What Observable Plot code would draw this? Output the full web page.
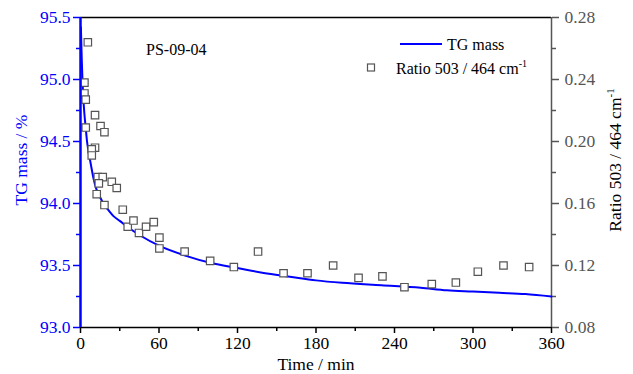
<!DOCTYPE html>
<html><head><meta charset="utf-8">
<script src="https://cdn.jsdelivr.net/npm/d3@7"></script>
<script src="https://cdn.jsdelivr.net/npm/@observablehq/plot@0.6"></script>
<style>
body{margin:0;background:#fff}
#chart svg{display:block}
#chart svg, #chart svg text{font-family:'Liberation Serif', 'DejaVu Serif', serif !important}
</style>
</head><body><div id="chart"></div>
<script>
// TG mass curve (time in min, mass in %)
const tgTime = [0.3, 1, 2, 3, 4, 5, 6, 8, 10, 12, 15, 18, 21, 25, 30, 36, 46, 60, 80, 100, 120, 140, 160, 180, 200, 230, 260, 280, 300, 320, 340, 360];
const tgMass = [95.42, 95.15, 94.88, 94.72, 94.61, 94.50, 94.43, 94.31, 94.20, 94.12, 94.05, 93.99, 93.95, 93.90, 93.86, 93.81, 93.74, 93.66, 93.58, 93.52, 93.48, 93.44, 93.41, 93.38, 93.36, 93.34, 93.32, 93.30, 93.29, 93.28, 93.27, 93.25];

// Ratio 503 / 464 cm-1 (time in min, ratio)
const ratioTime = [5.6, 3.0, 3.0, 4.0, 11.1, 15.3, 18.3, 4.0, 11.1, 8.6, 8.6, 13.2, 17.0, 14.0, 23.9, 27.7, 12.4, 18.3, 32.3, 36.1, 40.5, 44.7, 50.1, 56.0, 60.3, 60.3, 79.6, 99.1, 117.2, 135.7, 155.2, 173.5, 193.1, 212.5, 230.8, 247.6, 268.5, 286.9, 303.7, 323.3, 342.9];
const ratioValue = [0.264, 0.238, 0.231, 0.227, 0.217, 0.210, 0.206, 0.209, 0.196, 0.195, 0.191, 0.177, 0.177, 0.173, 0.174, 0.170, 0.166, 0.159, 0.156, 0.145, 0.149, 0.141, 0.145, 0.148, 0.138, 0.131, 0.129, 0.123, 0.119, 0.129, 0.115, 0.115, 0.120, 0.112, 0.113, 0.106, 0.108, 0.109, 0.116, 0.120, 0.119];

// Tick labels
const xTicks = [0, 60, 120, 180, 240, 300, 360];
const xMinor = [30, 90, 150, 210, 270, 330];
const tgTicks = [93.0, 93.5, 94.0, 94.5, 95.0, 95.5];
const tgMinor = [93.25, 93.75, 94.25, 94.75, 95.25];
const ratioTicks = [0.08, 0.12, 0.16, 0.20, 0.24, 0.28];
const ratioMinor = [0.10, 0.14, 0.18, 0.22, 0.26];

const tgDomain = [93.0, 95.5];
const ratioDomain = [0.08, 0.28];
const toTG = r => tgDomain[0] + (r - ratioDomain[0]) / (ratioDomain[1] - ratioDomain[0]) * (tgDomain[1] - tgDomain[0]);
const fromTG = v => ratioDomain[0] + (v - tgDomain[0]) / (tgDomain[1] - tgDomain[0]) * (ratioDomain[1] - ratioDomain[0]);

const tg = tgTime.map((t, i) => ({t, m: tgMass[i]}));
const ratio = ratioTime.map((t, i) => ({t, r: ratioValue[i]}));

const BLUE = "#0000ff";
const GRAY = "#555555";
const FS = 17.5;
const FONT = "Liberation Serif";

const plot = Plot.plot({
  width: 633,
  height: 374,
  marginLeft: 80,
  marginRight: 82,
  marginTop: 17,
  marginBottom: 47,
  style: {fontFamily: FONT, background: "#fff"},
  x: {domain: [0, 360], axis: null},
  y: {domain: tgDomain, axis: null},
  marks: [
    Plot.ruleY([tgDomain[1]], {stroke: "#000", strokeWidth: 1.5}),
    Plot.ruleY([tgDomain[0]], {stroke: "#000", strokeWidth: 1.5}),
    Plot.ruleX([360], {stroke: GRAY, strokeWidth: 1.5}),
    Plot.axisX(xTicks, {anchor: "bottom", tickSize: 6, tickPadding: 3, fontSize: FS, stroke: "#000", fill: "#000", label: null, tickFormat: d => String(d), strokeWidth: 1.5}),
    Plot.axisX(xMinor, {anchor: "bottom", tickSize: 4, tickFormat: () => "", label: null, strokeWidth: 1.5}),
    Plot.axisY(tgTicks, {anchor: "left", tickSize: 7, tickPadding: 3, fontSize: FS, color: BLUE, label: null, tickFormat: d => d.toFixed(1), strokeWidth: 1.5}),
    Plot.axisY(tgMinor, {anchor: "left", tickSize: 4, color: BLUE, label: null, tickFormat: () => "", strokeWidth: 1.5}),
    Plot.axisY(ratioTicks.map(toTG), {anchor: "right", tickSize: 7, tickPadding: 6, fontSize: FS, color: GRAY, label: null, tickFormat: d => fromTG(d).toFixed(2), strokeWidth: 1.5}),
    Plot.axisY(ratioMinor.map(toTG), {anchor: "right", tickSize: 4, color: GRAY, label: null, tickFormat: () => "", strokeWidth: 1.5}),
    Plot.line(tg, {x: "t", y: "m", stroke: BLUE, strokeWidth: 2, curve: "monotone-x"}),
    Plot.dot(ratio, {x: "t", y: d => toTG(d.r), symbol: "square", r: 4.2, stroke: GRAY, fill: "white", strokeWidth: 1.2}),
    Plot.ruleX([0], {stroke: BLUE, strokeWidth: 2.5})
  ]
});

document.getElementById("chart").appendChild(plot);

const svg = d3.select(plot);

function addText(x, y, str, opts = {}) {
  const t = svg.append("text")
    .attr("text-anchor", opts.anchor || "start")
    .attr("fill", opts.fill || "#000")
    .attr("font-size", opts.size || FS)
    .attr("font-family", FONT);
  if (opts.rotate) t.attr("transform", `translate(${x},${y}) rotate(${opts.rotate})`);
  else t.attr("x", x).attr("y", y);
  t.append("tspan").text(str);
  if (opts.sup) t.append("tspan").attr("font-size", opts.supSize || 10).attr("dy", -7).text(opts.sup);
  return t;
}

// Axis titles
addText(27, 160, "TG mass / %", {anchor: "middle", fill: BLUE, rotate: -90});
addText(621, 160, "Ratio 503 / 464 cm", {anchor: "middle", rotate: -90, sup: "-1", supSize: 11});
addText(316, 370, "Time / min", {anchor: "middle"});

// Annotation
addText(146, 55, "PS-09-04", {size: 16});

// Legend
svg.append("line").attr("x1", 400).attr("x2", 442).attr("y1", 44).attr("y2", 44)
  .attr("stroke", BLUE).attr("stroke-width", 2);
addText(447, 49.5, "TG mass", {size: 16});
svg.append("rect").attr("x", 367.5).attr("y", 64).attr("width", 7).attr("height", 7)
  .attr("fill", "white").attr("stroke", GRAY).attr("stroke-width", 1.2);
addText(396, 74, "Ratio 503 / 464 cm", {size: 16, sup: "-1"});
</script>
</body></html>
